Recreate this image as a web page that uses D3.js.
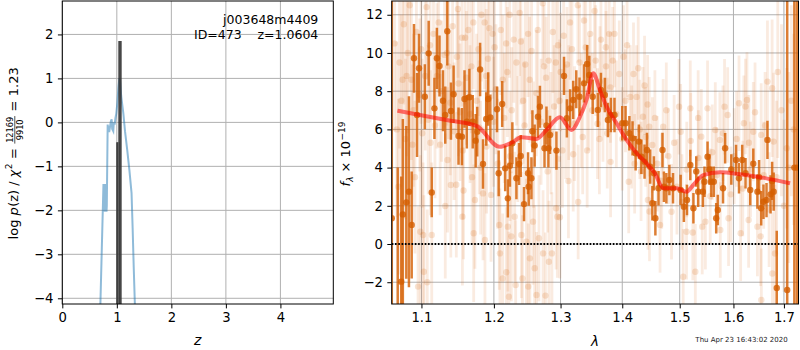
<!DOCTYPE html>
<html>
<head>
<meta charset="utf-8">
<script src="https://cdn.jsdelivr.net/npm/d3@7"></script>
<style>
  body { margin: 0; background: #fff; }
  svg { display: block; font-family: "DejaVu Sans", sans-serif; }
</style>
</head>
<body>
<svg id="fig" width="800" height="350"></svg>
<script>
// ---- left panel: log p(z) ----
const pzZ = [0.695, 0.755, 0.762, 0.770, 0.778, 0.786, 0.794, 0.802, 0.810, 0.816, 0.832, 0.845, 0.860, 0.875,
  0.890, 0.905, 0.915, 0.935, 0.945, 0.960, 0.975, 0.990, 1.010, 1.030, 1.046, 1.060, 1.080, 1.100, 1.120,
  1.150, 1.190, 1.230, 1.270, 1.290, 1.310, 1.335]
const pzLog = [-4.3, -1.40, -2.02, -1.40, -2.03, -1.40, -2.03, -1.42, -2.03, -1.90, -0.05, -0.15, -0.22, -0.10,
  0.02, 0.07, -0.15, -0.20, 0.00, -0.05, 0.10, 0.20, 0.45, 0.80, 1.00, 0.95, 0.60, 0.40, 0.20,
  -0.20, -0.62, -1.08, -1.61, -2.40, -3.30, -4.30]
const zLineZ = [1.005, 1.058]
const zLineTop = [-0.45, 1.85]
const pzTicksX = [0, 1, 2, 3, 4]
const pzTicksY = [-4, -3, -2, -1, 0, 1, 2]

// ---- right panel: spectrum ----
const darkWave = [1.0615, 1.0691, 1.0736, 1.0757, 1.0802, 1.0836, 1.0872, 1.0902, 1.0942, 1.0968,
  1.1045, 1.1096, 1.1137, 1.1173, 1.1206, 1.1241, 1.1288, 1.1319, 1.1347, 1.1397,
  1.1433, 1.1501, 1.1548, 1.1584, 1.1616, 1.1652, 1.1699, 1.1740, 1.1762, 1.1803,
  1.1844, 1.1890, 1.1918, 1.1949, 1.2045, 1.2069, 1.2120, 1.2164, 1.2203, 1.2233,
  1.2269, 1.2329, 1.2368, 1.2393, 1.2442, 1.2502, 1.2512, 1.2553, 1.2568, 1.2602,
  1.2652, 1.2682, 1.2752, 1.2782, 1.2812, 1.2837, 1.2936, 1.3054, 1.3099, 1.3150,
  1.3199, 1.3248, 1.3299, 1.3372, 1.3422, 1.3457, 1.3512, 1.3596, 1.3646, 1.3710,
  1.3761, 1.3810, 1.3870, 1.4000, 1.4055, 1.4120, 1.4174, 1.4227, 1.4282, 1.4325,
  1.4380, 1.4422, 1.4477, 1.4515, 1.4542, 1.4568, 1.4623, 1.4693, 1.4718, 1.4761,
  1.4815, 1.4880, 1.5017, 1.5075, 1.5132, 1.5192, 1.5249, 1.5301, 1.5336, 1.5423,
  1.5453, 1.5510, 1.5545, 1.5580, 1.5627, 1.5672, 1.5702, 1.5801, 1.5841, 1.5959,
  1.6050, 1.6107, 1.6169, 1.6234, 1.6326, 1.6386, 1.6467, 1.6500, 1.6542, 1.6587,
  1.6648, 1.6667, 1.6729, 1.6761, 1.6792, 1.6854, 1.7067, 1.7214, 1.7268]
const darkFlux = [1.35, -4.0, -1.97, 1.55, 2.18, 2.74, 1.0, 9.72, 6.75, 9.2,
  7.71, 9.98, 2.7, 7.1, 9.72, 9.32, 7.5, 6.75, 11.14, 6.96,
  7.84, 5.65, 5.62, 7.59, 6.4, 7.68, 6.4, 5.41, 5.88, 9.14,
  4.19, 6.54, 7.59, 6.63, 7.05, 3.7, 7.33, 3.96, 2.39, 4.1,
  5.27, 3.44, 4.19, 4.61, 2.09, 3.7, 3.0, 3.44, 5.9, 5.15,
  6.66, 7.19, 5.01, 6.2, 5.01, 5.71, 4.89, 8.8, 6.58, 7.1,
  7.54, 8.1, 7.71, 8.41, 9.42, 8.85, 7.71, 7.02, 8.06, 7.8,
  6.49, 6.75, 6.75, 6.32, 6.32, 5.8, 5.53, 4.75, 5.36, 4.57,
  4.31, 4.92, 4.05, 2.13, 3.7, 1.35, 2.92, 4.92, 3.0, 2.92,
  3.35, 2.92, 2.83, 1.95, 2.3, 4.14, 1.87, 3.8, 2.74, 2.74,
  3.26, 4.57, 3.9, 3.26, 3.26, 1.35, 1.78, 2.92, 5.01, 3.9,
  4.4, 3.44, 4.4, 3.7, 2.83, 4.2, 2.74, 3.5, 1.87, 2.21,
  2.3, 5.45, 2.6, 3.3, 2.74, -2.3, -2.41, 4.0, 4.0]
const darkErr = [20, 8, 5.5, 5, 4, 5, 2.8, 1.8, 2.2, 1.8,
  1.7, 1.7, 1.3, 1.6, 1.6, 1.6, 1.6, 1.5, 1.8, 1.5,
  1.5, 1.5, 1.5, 1.5, 1.4, 1.5, 1.4, 1.4, 1.3, 1.4,
  1.3, 1.4, 1.4, 1.2, 1.2, 1.2, 1.2, 1.2, 1.0, 1.1,
  1.1, 1.1, 1.1, 1.1, 0.9, 1.1, 1.0, 1.1, 1.1, 1.1,
  1.1, 1.1, 1.0, 1.0, 1.0, 1.0, 1.0, 1.0, 1.0, 1.0,
  1.0, 1.0, 1.0, 1.0, 1.0, 1.0, 0.9, 0.9, 0.9, 0.9,
  0.9, 0.9, 0.9, 0.9, 0.9, 0.9, 0.9, 0.9, 0.9, 0.9,
  0.9, 0.9, 0.9, 0.9, 0.9, 0.9, 0.9, 0.9, 0.8, 0.8,
  0.8, 0.8, 0.8, 0.8, 0.8, 0.8, 0.8, 0.8, 0.8, 0.8,
  0.8, 0.8, 0.8, 0.8, 0.8, 0.8, 0.8, 0.8, 0.8, 0.8,
  0.8, 0.8, 0.8, 0.8, 0.8, 0.8, 0.9, 0.9, 0.9, 0.9,
  0.9, 1.0, 1.0, 1.0, 1.0, 3.0, 16, 20, 20]

const faintWave = [1.0714, 1.0736, 1.0753, 1.0806, 1.0846, 1.0868, 1.0881, 1.0934, 1.0955, 1.0978,
  1.0985, 1.1022, 1.1032, 1.1068, 1.1077, 1.1114, 1.1120, 1.1137, 1.1206, 1.1310,
  1.1319, 1.1342, 1.1350, 1.1364, 1.1388, 1.1395, 1.1470, 1.1479, 1.1493, 1.1501,
  1.1548, 1.1555, 1.1560, 1.1570, 1.1593, 1.1638, 1.1661, 1.1707, 1.1712, 1.1730,
  1.1753, 1.1822, 1.1844, 1.1867, 1.1872, 1.1890, 1.1895, 1.1936, 1.1959, 1.1981,
  1.2030, 1.2078, 1.2088, 1.2127, 1.2129, 1.2178, 1.2180, 1.2203, 1.2218, 1.2228,
  1.2235, 1.2254, 1.2303, 1.2318, 1.2329, 1.2377, 1.2403, 1.2418, 1.2428, 1.2478,
  1.2502, 1.2505, 1.2527, 1.2530, 1.2577, 1.2602, 1.2627, 1.2630, 1.2667, 1.2726,
  1.2730, 1.2766, 1.2776, 1.2816, 1.2820, 1.2852, 1.2866, 1.2926, 1.2930, 1.2950,
  1.2985, 1.2990, 1.3029, 1.3049, 1.3124, 1.3129, 1.3149, 1.3199, 1.3273, 1.3278,
  1.3328, 1.3372, 1.3422, 1.3471, 1.3504, 1.3542, 1.3621, 1.3629, 1.3646, 1.3727,
  1.3730, 1.3782, 1.3802, 1.3805, 1.3870, 1.4055, 1.4081, 1.4109, 1.4136, 1.4190,
  1.4243, 1.4271, 1.4298, 1.4352, 1.4380, 1.4433, 1.4438, 1.4461, 1.4465, 1.4515,
  1.4600, 1.4650, 1.4705, 1.4761, 1.4797, 1.4853, 1.4988, 1.5017, 1.5063, 1.5123,
  1.5127, 1.5192, 1.5238, 1.5284, 1.5336, 1.5340, 1.5394, 1.5411, 1.5470, 1.5510,
  1.5598, 1.5655, 1.5742, 1.5749, 1.5830, 1.5889, 1.5906, 1.6013, 1.6107, 1.6139,
  1.6201, 1.6232, 1.6262, 1.6294, 1.6331, 1.6386, 1.6467, 1.6531, 1.6542, 1.6545,
  1.6592, 1.6667, 1.6761, 1.6765, 1.6792, 1.6818, 1.6875, 1.7058, 1.7152,
  1.0650, 1.0680, 1.0700, 1.0770, 1.0790, 1.0820, 1.0895, 1.0915, 1.0995, 1.1010,
  1.1050, 1.1090, 1.1160, 1.1180, 1.1230, 1.1250, 1.1270, 1.1420, 1.1440, 1.1520,
  1.1610, 1.1680, 1.1690, 1.1780, 1.1790, 1.1810, 1.1915, 1.1995, 1.2010, 1.2055,
  1.2100, 1.2150, 1.2195, 1.2260, 1.2290, 1.2350, 1.2395, 1.2450, 1.2460, 1.2555,
  1.2585, 1.2650, 1.2700, 1.2745, 1.2800, 1.2880, 1.2900, 1.2960, 1.3000, 1.3080,
  1.3100, 1.3180, 1.3220, 1.3300, 1.3350, 1.3400, 1.3450, 1.3560, 1.3590, 1.3680,
  1.3750, 1.3840, 1.3900, 1.3950, 1.4000, 1.4020, 1.4160, 1.4210, 1.4320, 1.4400,
  1.4560, 1.4680, 1.4900, 1.4950, 1.5040, 1.5200, 1.5560, 1.5680, 1.5800, 1.5950,
  1.6060, 1.6180, 1.6300, 1.6420, 1.6620, 1.6700, 1.6850, 1.6950, 1.7000, 1.7100,
  1.7200]
const faintFlux = [9.5, 7.5, 8.6, 8.8, 12.5, 8.6, 5.2, 11.1, -2.23, 7.8,
  0.64, 0.47, -1.45, 12.4, -2.0, 10.4, 5.3, 0.47, 8.8, 9.9,
  1.99, 10.0, 4.4, 9.3, 7.4, 3.09, 3.1, 9.8, 12.3, 8.4,
  10.8, 1.43, 4.9, 2.8, 10.8, 11.2, 6.8, 11.6, 0.56, 2.3,
  7.5, 12.0, 2.65, 11.6, 0.21, 8.8, 5.1, 11.3, 2.57, 11.0,
  8.1, 1.0, -0.49, -1.8, 8.6, 10.5, -1.48, 0.91, -2.76, 12.0,
  4.6, 0.4, 1.43, -2.15, 9.5, 12.1, 0.47, -1.8, 7.5, 0.12,
  11.0, -2.23, 8.6, -0.75, 1.17, -1.27, 7.9, -2.67, 0.3, 12.6,
  -0.49, -2.7, 8.7, 9.6, -0.93, 5.8, -0.49, 9.5, 1.87, 1.43,
  7.5, 1.4, 4.9, 10.9, 3.3, 7.4, 11.6, 4.7, 12.5, 2.2,
  7.0, 11.7, 4.9, 11.0, 7.0, 12.2, 5.5, 8.5, 10.7, 10.3,
  9.3, 11.0, 8.2, 4.3, 11.0, 7.5, 10.4, 3.26, 7.7, 8.9,
  7.7, 9.2, 6.0, 6.66, 8.3, 7.3, 2.3, 6.14, 1.7, 5.18,
  4.2, 1.0, 6.14, 7.0, 4.6, 1.69, 7.19, 5.88, -1.71, 0.64,
  3.9, 7.1, 0.6, -1.45, 6.6, 4.5, 5.62, 0.91, 1.17, 7.1,
  4.8, 5.97, 5.45, 0.73, 7.19, 6.75, 1.35, 4.6, 7.37, 0.56,
  6.32, 7.2, 7.54, 1.26, 3.9, 5.88, 0.91, 0.4, 5.71, -2.93,
  3.6, 8.5, 8.15, -1.54, 5.36, -0.5, 9.0, 5.01, 7.5,
  10.5, 6.0, 3.0, 11.5, 5.5, 10.0, 7.0, 3.5, 10.2, 5.8,
  8.8, 6.5, 11.0, 6.2, 11.6, 5.2, 8.0, 11.4, 5.9, 6.9,
  8.7, 9.3, 3.5, 10.2, 6.1, 4.0, 9.7, 6.4, 10.3, 4.2,
  11.2, 6.6, 9.0, 7.0, 10.7, 5.5, 10.6, 6.2, 9.4, 10.1,
  5.2, 11.2, 6.4, 9.3, 3.8, 11.1, 7.2, 10.4, 9.0, 6.4,
  9.4, 10.2, 6.3, 9.5, 5.6, 10.3, 7.9, 9.6, 6.3, 7.2,
  5.8, 9.6, 6.8, 8.9, 5.5, 9.8, 5.6, 4.2, 3.8, 5.6,
  6.6, 3.3, 5.3, 3.0, 2.2, 5.4, 2.5, 3.6, 5.8, 2.6,
  5.5, 2.9, 5.3, 6.9, 6.2, 1.8, 3.5, 7.0, 2.0, 4.0,
  6.0]
const faintErr = [4.5, 4.5, 5, 4.2, 4.5, 4.2, 4.2, 4, 4.2, 4,
  4, 3.8, 4, 3.8, 3.8, 3.8, 3.8, 3.8, 3.8, 3.8,
  3.8, 3.8, 3.8, 3.8, 3.8, 3.8, 3.8, 3.8, 3.6, 3.8,
  3.6, 3.6, 3.6, 3.6, 3.5, 3.5, 3.6, 3.5, 3.6, 3.6,
  3.5, 3.5, 3.5, 3.5, 3.5, 3.5, 3.5, 3.4, 3.5, 3.4,
  3.4, 3.4, 3.4, 3.4, 3.4, 3.4, 3.4, 3.4, 3.4, 3.3,
  3.4, 3.4, 3.4, 3.4, 3.3, 3.3, 3.3, 3.3, 3.3, 3.3,
  3.3, 3.3, 3.3, 3.3, 3.3, 3.3, 3.3, 3.3, 3.3, 3.2,
  3.3, 3.3, 3.2, 3.2, 3.2, 3.2, 3.2, 3.2, 3.2, 3.2,
  3.2, 3.2, 3.0, 3.0, 3.0, 3.0, 3.0, 3.0, 3.0, 3.0,
  3.0, 3.0, 3.0, 3.0, 3.0, 3.0, 2.9, 2.9, 2.9, 2.9,
  2.9, 2.9, 2.9, 2.9, 2.8, 2.7, 2.7, 2.7, 2.7, 2.7,
  2.7, 2.7, 2.6, 2.6, 2.6, 2.6, 2.6, 2.6, 2.6, 2.5,
  2.5, 2.5, 2.5, 2.5, 2.5, 2.5, 2.5, 2.5, 2.5, 2.5,
  2.5, 2.5, 2.5, 2.5, 2.5, 2.5, 2.5, 2.5, 2.5, 2.5,
  2.5, 2.5, 2.5, 2.5, 2.5, 2.5, 2.5, 2.5, 2.5, 2.5,
  2.5, 2.5, 2.5, 2.5, 2.5, 2.6, 2.6, 2.6, 2.7, 2.7,
  2.8, 3.2, 3.6, 3.2, 3.6, 3.6, 4.5, 4.2, 5,
  4.6, 4.6, 4.6, 4.2, 4.2, 4.2, 4, 4, 3.9, 3.9,
  3.9, 3.9, 3.8, 3.8, 3.7, 3.7, 3.7, 3.6, 3.6, 3.6,
  3.5, 3.5, 3.5, 3.5, 3.5, 3.5, 3.4, 3.4, 3.4, 3.4,
  3.4, 3.4, 3.4, 3.3, 3.3, 3.3, 3.3, 3.3, 3.3, 3.3,
  3.3, 3.3, 3.3, 3.2, 3.2, 3.2, 3.2, 3.1, 3.1, 3.0,
  3.0, 3.0, 3.0, 3.0, 3.0, 3.0, 3.0, 2.9, 2.9, 2.9,
  2.9, 2.8, 2.8, 2.8, 2.7, 2.7, 2.7, 2.6, 2.6, 2.6,
  2.5, 2.5, 2.5, 2.5, 2.5, 2.5, 2.5, 2.5, 2.5, 2.5,
  2.5, 2.5, 2.5, 2.6, 2.8, 3, 4, 4.5, 4.5, 5,
  5]

const modelWave = [1.0687, 1.0978, 1.1336, 1.1752, 1.2085, 1.2257, 1.2405, 1.2630, 1.2783, 1.2989,
  1.3173, 1.3305, 1.3412, 1.3520, 1.3629, 1.3739, 1.3905, 1.4073, 1.4243, 1.4415,
  1.4560, 1.4706, 1.4945, 1.5126, 1.5246, 1.5431, 1.5743, 1.6127, 1.6619, 1.7126]
const modelFlux = [6.98, 6.75, 6.49, 6.18, 5.09, 5.30, 5.59, 5.50, 5.97, 6.63,
  5.97, 6.66, 7.54, 8.94, 8.06, 7.19, 6.32, 5.45, 4.75, 4.22,
  3.70, 2.92, 2.92, 2.74, 3.09, 3.61, 3.75, 3.65, 3.45, 3.18]

const waveTicks = [1.1, 1.2, 1.3, 1.4, 1.5, 1.6, 1.7]
const fluxTicks = [-2, 0, 2, 4, 6, 8, 10, 12]

const specColor = "#d55e00"
const svg = d3.select("#fig")

function styleAxis(g) {
  g.select(".domain").remove()
  g.selectAll(".tick line").attr("stroke", "#000").attr("stroke-width", 1)
  g.selectAll(".tick text").attr("font-size", 13.2).attr("fill", "#000")
    .attr("font-family", "DejaVu Sans, sans-serif")
}

function grid(g, x, y, xt, yt, box) {
  g.selectAll(null).data(xt).join("line")
    .attr("x1", d => x(d)).attr("x2", d => x(d)).attr("y1", box.y0).attr("y2", box.y1)
    .attr("stroke", "#b0b0b0").attr("stroke-width", 1)
  g.selectAll(null).data(yt).join("line")
    .attr("x1", box.x0).attr("x2", box.x1).attr("y1", d => y(d)).attr("y2", d => y(d))
    .attr("stroke", "#b0b0b0").attr("stroke-width", 1)
}

function frame(g, x, y, xt, yt, box, xfmt, yfmt) {
  g.append("g").attr("transform", `translate(0,${box.y1})`)
    .call(d3.axisBottom(x).tickValues(xt).tickFormat(xfmt).tickSize(4.4).tickPadding(4.4))
    .call(styleAxis)
  g.append("g").attr("transform", `translate(${box.x0},0)`)
    .call(d3.axisLeft(y).tickValues(yt).tickFormat(yfmt).tickSize(4.4).tickPadding(4.4))
    .call(styleAxis)
  g.append("rect").attr("x", box.x0).attr("y", box.y0)
    .attr("width", box.x1 - box.x0).attr("height", box.y1 - box.y0)
    .attr("fill", "none").attr("stroke", "#000").attr("stroke-width", 1)
}

// rotated label made of pieces (plain, italic, sub/superscript, fraction)
function mathLabel(tx, ty, parts) {
  const g = svg.append("g").attr("transform", `translate(${tx},${ty}) rotate(-90)`)
  const inner = g.append("g")
  let x = 0
  parts.forEach(p => {
    if (p.num !== undefined) {
      const a = inner.append("text").attr("font-size", p.size).attr("y", p.numY).text(p.num)
      const b = inner.append("text").attr("font-size", p.size).attr("y", p.denY).text(p.den)
      const wa = a.node().getComputedTextLength(), wb = b.node().getComputedTextLength()
      const w = Math.max(wa, wb) + 1.5
      a.attr("x", x + (w - wa) / 2)
      b.attr("x", x + (w - wb) / 2)
      inner.append("line").attr("x1", x).attr("x2", x + w)
        .attr("y1", p.barY).attr("y2", p.barY).attr("stroke", "#000").attr("stroke-width", 0.7)
      x += w + (p.gap || 0)
    } else {
      const t = inner.append("text").attr("x", x).attr("y", p.dy || 0)
        .attr("font-size", p.size || 13)
        .attr("font-style", p.italic ? "italic" : null).text(p.t)
      x += t.node().getComputedTextLength() + (p.gap || 0)
    }
  })
  inner.attr("transform", `translate(${-x / 2},0)`)
}

// ---------- left panel ----------
const L = { x0: 62.3, x1: 333.3, y0: 1, y1: 304 }
const xz = d3.scaleLinear().domain([0, 4.97]).range([L.x0, L.x1])
const yp = d3.scaleLinear().domain([-4.13, 2.76]).range([L.y1, L.y0])

svg.append("clipPath").attr("id", "clipL").append("rect")
  .attr("x", L.x0).attr("y", L.y0).attr("width", L.x1 - L.x0).attr("height", L.y1 - L.y0)
const gL = svg.append("g")
grid(gL.append("g"), xz, yp, pzTicksX, pzTicksY, L)
const dL = gL.append("g").attr("clip-path", "url(#clipL)")

dL.append("path")
  .datum(d3.zip(pzZ, pzLog))
  .attr("d", d3.line().x(d => xz(d[0])).y(d => yp(d[1])))
  .attr("fill", "none").attr("stroke", "#1f77b4").attr("stroke-opacity", 0.5)
  .attr("stroke-width", 2)

dL.append("rect")
  .attr("x", xz(zLineZ[0])).attr("width", xz(zLineZ[1]) - xz(zLineZ[0]))
  .attr("y", yp(zLineTop[0])).attr("height", L.y1 - yp(zLineTop[0]))
  .attr("fill", "#888").attr("opacity", 0.7)
dL.selectAll(null).data(d3.zip(zLineZ, zLineTop)).join("line")
  .attr("x1", d => xz(d[0])).attr("x2", d => xz(d[0]))
  .attr("y1", d => yp(d[1])).attr("y2", L.y1 + 2)
  .attr("stroke", "#333").attr("stroke-width", (d, i) => i ? 3.4 : 1.8).attr("opacity", 0.9)

frame(gL, xz, yp, pzTicksX, pzTicksY, L, d3.format("d"), d3.format("d"))

gL.append("text").attr("x", 318.3).attr("y", 24).attr("text-anchor", "end")
  .attr("font-size", 12.5).text("j003648m4409")
gL.append("text").attr("x", 318.3).attr("y", 39).attr("text-anchor", "end")
  .attr("font-size", 12.5).style("white-space", "pre").text("ID=473    z=1.0604")

gL.append("text").attr("x", (L.x0 + L.x1) / 2).attr("y", 345).attr("text-anchor", "middle")
  .attr("font-size", 14).attr("font-style", "italic").text("z")

mathLabel(17.5, 153.3, [
  { t: "log", gap: 4 },
  { t: "p", italic: true, gap: 0.5 },
  { t: "(z)", gap: 4 },
  { t: "/", gap: 4 },
  { t: "χ", italic: true, gap: 0.5 },
  { t: "2", size: 9, dy: -5.5, gap: 4.5 },
  { t: "=", gap: 4.5 },
  { num: "12169", den: "9910", size: 8.2, numY: -4.2, denY: 5.2, barY: -2.7, gap: 4.5 },
  { t: "=", gap: 4.5 },
  { t: "1.23" }
])

// ---------- right panel ----------
const R = { x0: 391.7, x1: 798.5, y0: 1, y1: 304 }
const xw = d3.scaleLog().domain([1.0614, 1.7300]).range([R.x0, R.x1])
const yf = d3.scaleLinear().domain([-3.14, 12.72]).range([R.y1, R.y0])

svg.append("clipPath").attr("id", "clipR").append("rect")
  .attr("x", R.x0).attr("y", R.y0).attr("width", R.x1 - R.x0).attr("height", R.y1 - R.y0)
const gR = svg.append("g")
grid(gR.append("g"), xw, yf, waveTicks, fluxTicks, R)
const dR = gR.append("g").attr("clip-path", "url(#clipR)")

const faint = d3.zip(faintWave, faintFlux, faintErr)
dR.append("g").selectAll("line").data(faint).join("line")
  .attr("x1", d => xw(d[0])).attr("x2", d => xw(d[0]))
  .attr("y1", d => yf(d[1] - d[2])).attr("y2", d => yf(d[1] + d[2]))
  .attr("stroke", specColor).attr("stroke-opacity", 0.12).attr("stroke-width", 2.8)
dR.append("g").selectAll("circle").data(faint).join("circle")
  .attr("cx", d => xw(d[0])).attr("cy", d => yf(d[1])).attr("r", 3.2)
  .attr("fill", specColor).attr("fill-opacity", 0.17)

const dark = d3.zip(darkWave, darkFlux, darkErr)
dR.append("g").selectAll("line").data(dark).join("line")
  .attr("x1", d => xw(d[0])).attr("x2", d => xw(d[0]))
  .attr("y1", d => yf(d[1] - d[2])).attr("y2", d => yf(d[1] + d[2]))
  .attr("stroke", specColor).attr("stroke-opacity", 0.8).attr("stroke-width", 2.5)
dR.append("g").selectAll("circle").data(dark).join("circle")
  .attr("cx", d => xw(d[0])).attr("cy", d => yf(d[1])).attr("r", 3.2)
  .attr("fill", specColor).attr("fill-opacity", 0.8)

dR.append("path")
  .datum(d3.zip(modelWave, modelFlux))
  .attr("d", d3.line().curve(d3.curveMonotoneX).x(d => xw(d[0])).y(d => yf(d[1])))
  .attr("fill", "none").attr("stroke", "#ff0000").attr("stroke-opacity", 0.55)
  .attr("stroke-width", 4).attr("stroke-linejoin", "round")

dR.append("line")
  .attr("x1", R.x0).attr("x2", R.x1).attr("y1", yf(0)).attr("y2", yf(0))
  .attr("stroke", "#000").attr("stroke-width", 2).attr("stroke-dasharray", "1.6,1.7")

frame(gR, xw, yf, waveTicks, fluxTicks, R, d3.format(".1f"), d3.format("d"))

gR.append("text").attr("x", (R.x0 + R.x1) / 2).attr("y", 346).attr("text-anchor", "middle")
  .attr("font-size", 13.5).attr("font-style", "italic").text("λ")

mathLabel(350, 154, [
  { t: "f", italic: true, gap: 0.3 },
  { t: "λ", italic: true, size: 9, dy: 2.5, gap: 4 },
  { t: "×", gap: 4 },
  { t: "10", gap: 0.5 },
  { t: "−19", size: 9, dy: -5.5 }
])

svg.append("text").attr("x", 787.7).attr("y", 342).attr("text-anchor", "end")
  .attr("font-size", 7).attr("fill", "#222").text("Thu Apr 23 16:43:02 2020")
</script>
</body>
</html>
